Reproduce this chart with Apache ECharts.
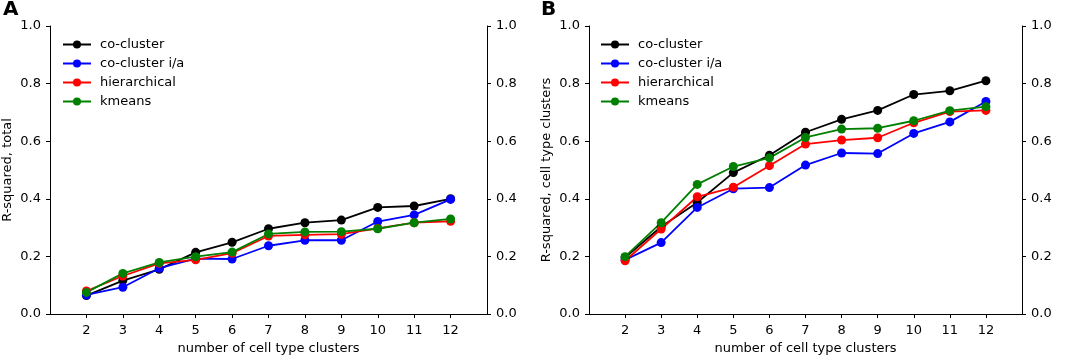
<!DOCTYPE html>
<html>
<head>
<meta charset="utf-8">
<script src="https://cdn.jsdelivr.net/npm/echarts@6/dist/echarts.min.js"></script>
<style>
  html, body { margin: 0; padding: 0; background: #fff; }
  #main { width: 1065px; height: 357px; }
</style>
</head>
<body>
<div id="main"></div>
<script>
// x 值：细胞类型簇数量
var clusterNums = [2, 3, 4, 5, 6, 7, 8, 9, 10, 11, 12];
var yTicks = [0, 0.2, 0.4, 0.6, 0.8, 1.0];
var seriesNames = ['co-cluster', 'co-cluster i/a', 'hierarchical', 'kmeans'];
var seriesColors = ['#000000', '#0000ff', '#ff0000', '#008000'];

// 图A  R-squared, total
var totalCoCluster = [0.064, 0.116, 0.155, 0.214, 0.249, 0.296, 0.317, 0.326, 0.370, 0.375, 0.400];
var totalCoClusterIA = [0.066, 0.093, 0.159, 0.192, 0.191, 0.237, 0.256, 0.256, 0.321, 0.344, 0.398];
var totalHier = [0.080, 0.132, 0.176, 0.188, 0.211, 0.271, 0.275, 0.277, 0.297, 0.317, 0.322];
var totalKmeans = [0.075, 0.141, 0.179, 0.199, 0.215, 0.278, 0.285, 0.286, 0.296, 0.317, 0.330];

// 图B  R-squared, cell type clusters
var ctCoCluster = [0.196, 0.303, 0.387, 0.491, 0.551, 0.631, 0.676, 0.707, 0.762, 0.775, 0.810];
var ctCoClusterIA = [0.188, 0.248, 0.370, 0.435, 0.439, 0.517, 0.559, 0.557, 0.627, 0.667, 0.738];
var ctHier = [0.185, 0.295, 0.407, 0.440, 0.515, 0.590, 0.604, 0.612, 0.664, 0.703, 0.707];
var ctKmeans = [0.199, 0.317, 0.450, 0.512, 0.542, 0.613, 0.642, 0.645, 0.671, 0.706, 0.720];

var font = 'DejaVu Sans';

function pairs(vals) {
  var out = [];
  for (var i = 0; i < clusterNums.length; i++) {
    out.push([clusterNums[i], vals[i]]);
  }
  return out;
}

function makeX(gridIndex) {
  return {
    type: 'value',
    gridIndex: gridIndex,
    min: 1,
    max: 13,
    name: 'number of cell type clusters',
    nameLocation: 'middle',
    nameGap: 28,
    nameTextStyle: { fontFamily: font, fontSize: 13, color: '#000' },
    axisLine: { show: true, lineStyle: { color: '#000', width: 1 } },
    axisTick: { show: true, length: 4, customValues: clusterNums, lineStyle: { color: '#000' } },
    axisLabel: { customValues: clusterNums, margin: 10, fontFamily: font, fontSize: 13, color: '#000' },
    splitLine: { show: false }
  };
}

function makeY(gridIndex, position, name, nameGap) {
  return {
    type: 'value',
    gridIndex: gridIndex,
    position: position,
    min: 0,
    max: 1,
    interval: 0.2,
    name: name,
    nameLocation: 'middle',
    nameGap: nameGap,
    nameTextStyle: { fontFamily: font, fontSize: 13, color: '#000' },
    axisLine: { show: true, onZero: false, lineStyle: { color: '#000', width: 1 } },
    axisTick: { show: true, length: 4, lineStyle: { color: '#000' } },
    axisLabel: {
      margin: 9,
      fontFamily: font,
      fontSize: 13,
      color: '#000',
      formatter: function (v) { return v.toFixed(1); }
    },
    splitLine: { show: false }
  };
}

function makeLine(name, color, vals, xi, yi) {
  return {
    name: name,
    type: 'line',
    xAxisIndex: xi,
    yAxisIndex: yi,
    data: pairs(vals),
    symbol: 'circle',
    symbolSize: 9,
    color: color,
    lineStyle: { color: color, width: 1.8 },
    itemStyle: { color: color },
    animation: false
  };
}

var chart = echarts.init(document.getElementById('main'));

var legendBase = {
  orient: 'vertical',
  itemWidth: 28,
  itemHeight: 10,
  itemGap: 6,
  textStyle: { fontFamily: font, fontSize: 13, color: '#000', padding: [0, 0, 0, 4] },
  data: seriesNames
};

var option = {
  backgroundColor: '#fff',
  animation: false,
  graphic: [
    { type: 'text', left: 3, top: 0, style: { text: 'A', font: 'bold 20px DejaVu Sans', fill: '#000' } },
    { type: 'text', left: 541, top: 0, style: { text: 'B', font: 'bold 20px DejaVu Sans', fill: '#000' } }
  ],
  legend: [
    Object.assign({}, legendBase, { left: 57, top: 33 }),
    Object.assign({}, legendBase, { left: 595, top: 33 })
  ],
  grid: [
    { left: 50, right: 578, top: 26, bottom: 43, outerBoundsMode: 'none' },
    { left: 589, right: 43, top: 26, bottom: 43, outerBoundsMode: 'none' }
  ],
  xAxis: [makeX(0), makeX(1)],
  yAxis: [
    makeY(0, 'left', 'R-squared, total', 36),
    makeY(0, 'right', '', 30),
    makeY(1, 'left', 'R-squared, cell type clusters', 36),
    makeY(1, 'right', '', 30)
  ],
  series: [
    makeLine(seriesNames[0], seriesColors[0], totalCoCluster, 0, 0),
    makeLine(seriesNames[1], seriesColors[1], totalCoClusterIA, 0, 0),
    makeLine(seriesNames[2], seriesColors[2], totalHier, 0, 0),
    makeLine(seriesNames[3], seriesColors[3], totalKmeans, 0, 0),
    makeLine(seriesNames[0], seriesColors[0], ctCoCluster, 1, 2),
    makeLine(seriesNames[1], seriesColors[1], ctCoClusterIA, 1, 2),
    makeLine(seriesNames[2], seriesColors[2], ctHier, 1, 2),
    makeLine(seriesNames[3], seriesColors[3], ctKmeans, 1, 2)
  ]
};

chart.setOption(option);
</script>
</body>
</html>
